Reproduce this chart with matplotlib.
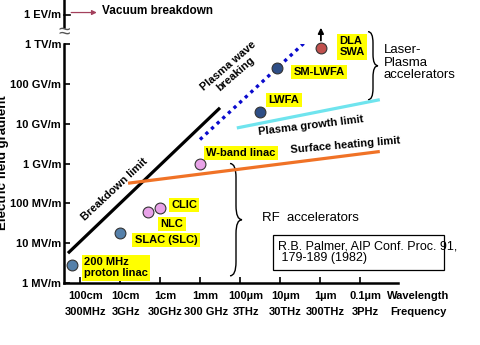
import numpy as np
import matplotlib
matplotlib.use("Agg")
from matplotlib import pyplot as plt
from matplotlib.path import Path
import matplotlib.patches as mpatches

plt.rcParams['font.family'] = ['Liberation Sans', 'DejaVu Sans']

# accelerator points: wavelength [m], gradient [V/m]
nomes = ['200 MHz proton linac', 'SLAC (SLC)', 'NLC', 'CLIC', 'W-band linac',
         'LWFA', 'SM-LWFA', 'DLA SWA']
comprimento = [1.6, 0.1, 0.02, 0.01, 1e-3, 3.2e-5, 1.2e-5, 9.5e-7]
gradiente = [2.8e6, 1.8e7, 6.0e7, 7.6e7, 1.0e9, 2.0e10, 2.5e11, 8.0e11]
cores = ['#5580AA', '#5580AA', '#E8A2E8', '#E8A2E8', '#E8A2E8',
         '#2E4E86', '#2E4E86', '#C0504D']

# limit lines: (wavelength start, end), (gradient start, end)
breakdown_x = [2.0, 3.16e-4]
breakdown_y = [5.6e6, 2.5e10]
wave_x = [1.0e-3, 1.5e-6]
wave_y = [4.0e9, 1.7e12]
growth_x = [1.2e-4, 3.2e-8]
growth_y = [7.8e9, 4.0e10]
heating_x = [6.3e-2, 3.2e-8]
heating_y = [3.2e8, 2.0e9]

y_ticks = [1e6, 1e7, 1e8, 1e9, 1e10, 1e11, 1e12]
y_labels = ['1 MV/m', '10 MV/m', '100 MV/m', '1 GV/m', '10 GV/m', '100 GV/m', '1 TV/m']
x_ticks = [1, 1e-1, 1e-2, 1e-3, 1e-4, 1e-5, 1e-6, 1e-7]
x_wave = ['100cm', '10cm', '1cm', '1mm', '100\u00b5m', '10\u00b5m', '1\u00b5m', '0.1\u00b5m']
x_freq = ['300MHz', '3GHz', '30GHz', '300 GHz', '3THz', '30THz', '300THz', '3PHz']


def chave(ax, x0, y0, y1, larg, cor='black'):
    # curly brace "}" from log10 y0 (bottom) to y1 (top), x in log10 units
    # (x grows to the right on screen, i.e. towards shorter wavelength)
    ym = (y0 + y1) / 2.0
    r = min(0.35, (y1 - y0) / 6.0)
    xa, xb, xc = x0, x0 + larg / 2.0, x0 + larg
    pts = [(xa, y1), (xb, y1), (xb, y1 - r), (xb, y1 - r),
           (xb, ym + r), (xb, ym + r), (xb, ym), (xc, ym),
           (xb, ym), (xb, ym - r), (xb, ym - r),
           (xb, y0 + r), (xb, y0 + r), (xb, y0), (xa, y0)]
    codes = [Path.MOVETO, Path.CURVE3, Path.CURVE3, Path.LINETO,
             Path.LINETO, Path.LINETO, Path.CURVE3, Path.CURVE3,
             Path.CURVE3, Path.CURVE3, Path.LINETO,
             Path.LINETO, Path.LINETO, Path.CURVE3, Path.CURVE3]
    verts = [(10 ** (-px), 10 ** py) for px, py in pts]
    p = mpatches.PathPatch(Path(verts, codes), fill=False, lw=1.0, color=cor,
                           clip_on=False, transform=ax.transData)
    ax.add_patch(p)


fig = plt.figure(figsize=(4.81, 3.45), dpi=100)
ax = fig.add_axes([64 / 481, 62 / 345, 334 / 481, 239 / 345])
ax.set_xscale('log')
ax.set_yscale('log')
ax.set_xlim(10 ** 0.4, 10 ** -7.95)
ax.set_ylim(1e6, 1e12)
for s in ['top', 'right']:
    ax.spines[s].set_visible(False)
for s in ['left', 'bottom']:
    ax.spines[s].set_linewidth(1.8)
ax.minorticks_off()
ax.tick_params(direction='in', length=4, width=1.2, pad=2)
ax.set_yticks(y_ticks)
ax.set_yticklabels(y_labels, fontsize=8, fontweight='bold')
ax.set_xticks(x_ticks)
ax.set_xticklabels([])

# x labels: wavelength row and frequency row
for lam, w, f in zip(x_ticks, x_wave, x_freq):
    xl = lam * 10 ** -0.14
    ax.text(xl, 10 ** 5.67, w, ha='center', va='center', fontsize=8, fontweight='bold')
    ax.text(xl, 10 ** 5.27, f, ha='center', va='center', fontsize=8, fontweight='bold')
ax.text(10 ** -7.68, 10 ** 5.67, 'Wavelength', ha='left', va='center', fontsize=8, fontweight='bold')
ax.text(10 ** -7.76, 10 ** 5.27, 'Frequency', ha='left', va='center', fontsize=8, fontweight='bold')

# upper part of the axis above the break
xl0 = 10 ** 0.4
ax.plot([xl0, xl0], [10 ** 12.43, 10 ** 13.2], color='black', lw=1.8, clip_on=False)
ax.plot([xl0, 10 ** 0.25], [10 ** 12.73, 10 ** 12.73], color='black', lw=1.2, clip_on=False)
ax.text(xl0 * 10 ** 0.08, 10 ** 12.73, '1 EV/m', ha='right', va='center', fontsize=8, fontweight='bold')
ax.text(xl0, 10 ** 12.3, '\u2248', ha='center', va='center', fontsize=15, color='#555555')
ax.annotate('', xy=(10 ** -0.42, 10 ** 12.79), xytext=(10 ** 0.22, 10 ** 12.79),
            arrowprops=dict(arrowstyle='-|>', color='#A3405C', lw=0.9, mutation_scale=7,
                            shrinkA=0, shrinkB=0),
            annotation_clip=False)
ax.text(10 ** -0.55, 10 ** 12.82, 'Vacuum breakdown', ha='left', va='center',
        fontsize=8.5, fontweight='bold')

# limit lines
ax.plot(breakdown_x, breakdown_y, color='black', lw=2.3, solid_capstyle='butt')
ax.plot(wave_x, wave_y, color='#0A0ACD', lw=2.4, linestyle=(0, (1, 1.3)))
ax.plot(growth_x, growth_y, color='#6FE4EE', lw=2.3, solid_capstyle='butt', clip_on=False)
ax.plot(heating_x, heating_y, color='#F07226', lw=2.3, solid_capstyle='butt', clip_on=False)

# accelerators
for lam, g, c in zip(comprimento, gradiente, cores):
    ax.plot(lam, g, 'o', ms=7.8, mfc=c, mec='#333333', mew=0.8, clip_on=False, zorder=5)
ax.annotate('', xy=(comprimento[-1], 10 ** 12.48), xytext=(comprimento[-1], gradiente[-1] * 1.3),
            arrowprops=dict(arrowstyle='-|>', color='black', lw=1.3, mutation_scale=8),
            annotation_clip=False)

caixa = dict(boxstyle='square,pad=0.2', fc='#FFFF00', ec='none')
rotulos = [('200 MHz\nproton linac', 10 ** -0.9, 10 ** 6.38),
           ('SLAC (SLC)', 10 ** -2.15, 10 ** 7.08),
           ('NLC', 10 ** -2.3, 10 ** 7.48),
           ('CLIC', 10 ** -2.6, 10 ** 7.96),
           ('W-band linac', 10 ** -4.02, 10 ** 9.27),
           ('LWFA', 10 ** -5.1, 10 ** 10.6),
           ('SM-LWFA', 10 ** -5.97, 10 ** 11.3),
           ('DLA\nSWA', 10 ** -6.8, 10 ** 11.93)]
for txt, x, y in rotulos:
    ax.text(x, y, txt, ha='center', va='center', fontsize=8, fontweight='bold',
            multialignment='left', linespacing=1.15, bbox=caixa, clip_on=False)

# line names
ax.text(10 ** -0.875, 10 ** 8.34, 'Breakdown limit', rotation=43, ha='center', va='center',
        fontsize=8, fontweight='bold', rotation_mode='anchor')
ax.text(10 ** -3.8, 10 ** 11.35, 'Plasma wave\nbreaking', rotation=41, ha='center', va='center',
        fontsize=8, fontweight='bold', rotation_mode='anchor', linespacing=1.0)
ax.text(10 ** -5.775, 10 ** 9.94, 'Plasma growth limit', rotation=7, ha='center', va='center',
        fontsize=8, fontweight='bold', rotation_mode='anchor')
ax.text(10 ** -6.625, 10 ** 9.47, 'Surface heating limit', rotation=5, ha='center', va='center',
        fontsize=8, fontweight='bold', rotation_mode='anchor', clip_on=False)

# groups
chave(ax, 3.75, 6.18, 9.0, 0.3)
ax.text(10 ** -4.55, 10 ** 7.63, 'RF  accelerators', ha='left', va='center', fontsize=9.5)
chave(ax, 7.2, 10.6, 12.31, 0.25)
ax.text(10 ** -7.6, 10 ** 11.53, 'Laser-\nPlasma\naccelerators', ha='left', va='center',
        fontsize=9.5, linespacing=1.05, clip_on=False)

# reference box
x0, x1 = 10 ** -4.825, 10 ** -9.1
y0, y1 = 10 ** 6.327, 10 ** 7.206
ax.add_patch(mpatches.Rectangle((x0, y0), x1 - x0, y1 - y0, fill=False, ec='black',
                                lw=0.9, clip_on=False))
ax.text(10 ** -4.95, 10 ** 6.77, 'R.B. Palmer, AIP Conf. Proc. 91,\n 179-189 (1982)',
        ha='left', va='center', fontsize=9, linespacing=1.0, clip_on=False)

fig.text(3 / 481, 1 - 163 / 345, 'Electric field gradient', rotation=90, ha='center',
         va='center', fontsize=9.5, fontweight='bold')

fig.savefig('out.png', dpi=100)
